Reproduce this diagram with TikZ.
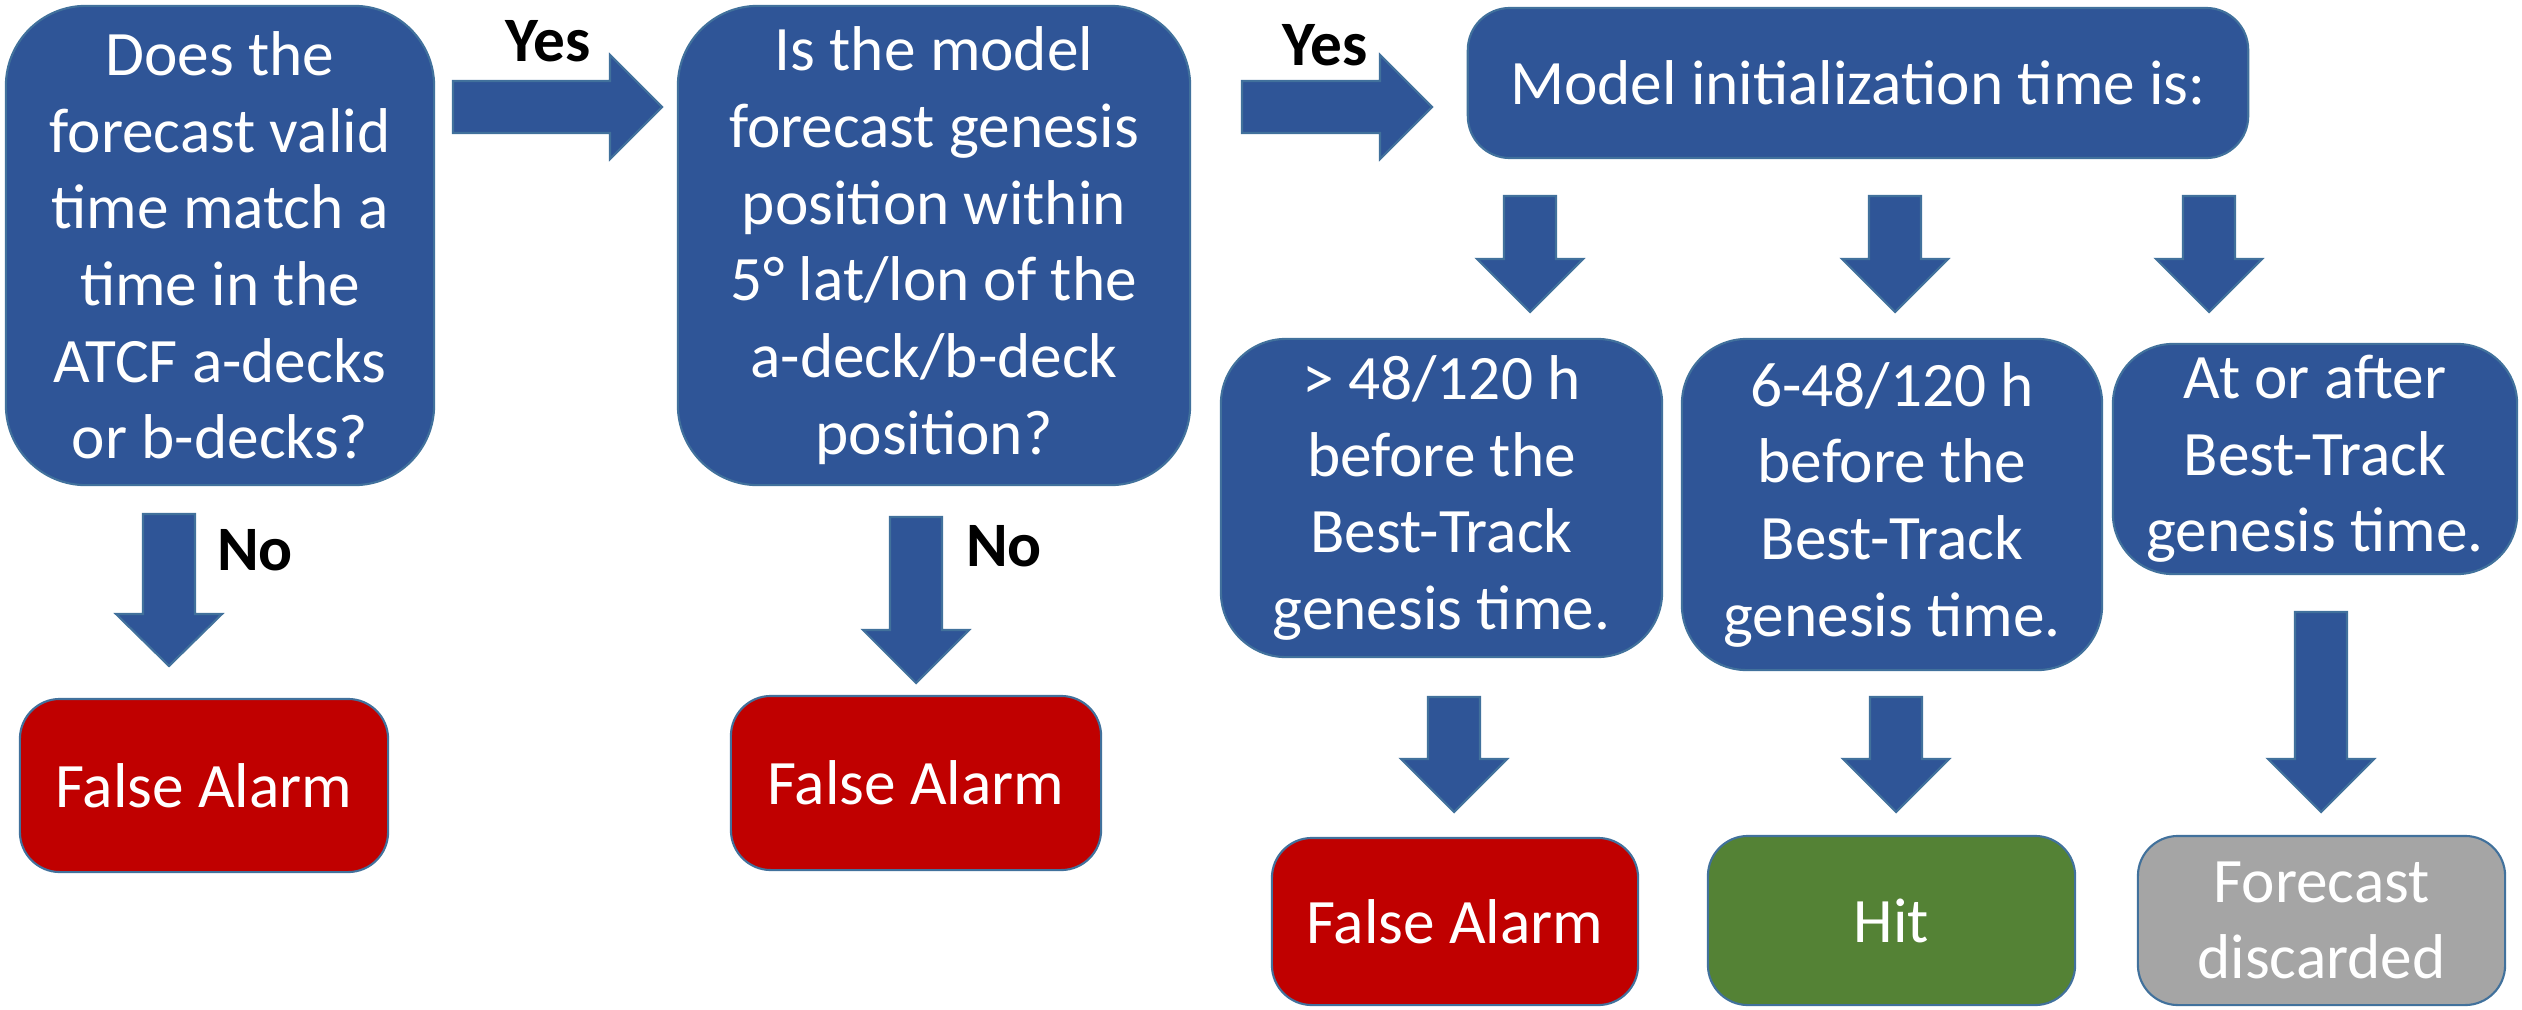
\documentclass[tikz,border=0pt]{standalone}
\usepackage{fontspec}
\setmainfont{Carlito}
\definecolor{boxblue}{HTML}{2F5597}
\definecolor{edgeblue}{HTML}{41719C}
\definecolor{alarmred}{HTML}{C00000}
\definecolor{hitgreen}{HTML}{548235}
\definecolor{discgray}{HTML}{A5A5A5}
\tikzset{
  box/.style={draw=edgeblue, line width=0.6pt, fill=boxblue, text=white, align=center,
    font=\fontsize{18}{21.8}\selectfont, inner sep=0pt},
  redbox/.style={box, fill=alarmred},
  greenbox/.style={box, fill=hitgreen},
  graybox/.style={box, fill=discgray},
  blockarr/.style={draw=edgeblue, line width=0.6pt, fill=boxblue},
  lab/.style={font=\fontsize{18}{21.8}\selectfont\bfseries, text=black, inner sep=0pt}
}
\newcommand\darr[4]{%
  \draw[blockarr] (#1-26,#2) -- (#1+26,#2) -- (#1+26,#3) -- (#1+53,#3) -- (#1,#4)
    -- (#1-53,#3) -- (#1-26,#3) -- cycle;}
\newcommand\rarr[3]{%
  \draw[blockarr] (#1,81) -- (#2,81) -- (#2,55) -- (#3,107) -- (#2,159) -- (#2,133)
    -- (#1,133) -- cycle;}
\begin{document}
\begin{tikzpicture}[x=0.01cm,y=-0.01cm]
\useasboundingbox (0,0) rectangle (2522,1009);

% question boxes
\node[box, minimum width=4.28cm, minimum height=4.79cm, rounded corners=0.8cm] (q1) at (220,245.5)
  {Does the\\forecast valid\\time match a\\time in the\\ATCF a-decks\\or b-decks?};
\node[box, minimum width=5.12cm, minimum height=4.79cm, rounded corners=0.8cm] (q2) at (934,245.5)
  {Is the model\\forecast genesis\\position within\\5° lat/lon of the\\a-deck/b-deck\\position?};
\node[box, minimum width=7.80cm, minimum height=1.50cm, rounded corners=0.42cm] (q3) at (1858,83)
  {Model initialization time is:};

\node[box, minimum width=4.41cm, minimum height=3.18cm, rounded corners=0.65cm] (c1) at (1441.5,498)
  {> 48/120 h\\before the\\Best-Track\\genesis time.};
\node[box, minimum width=4.20cm, minimum height=3.31cm, rounded corners=0.65cm] (c2) at (1892,504.5)
  {6-48/120 h\\before the\\Best-Track\\genesis time.};
\node[box, minimum width=4.04cm, minimum height=2.30cm, rounded corners=0.6cm] (c3) at (2315,459)
  {At or after\\Best-Track\\genesis time.};

% outcome boxes
\node[redbox, minimum width=3.68cm, minimum height=1.73cm, rounded corners=0.4cm] (fa1) at (204,785.5)
  {False Alarm};
\node[redbox, minimum width=3.70cm, minimum height=1.74cm, rounded corners=0.4cm] (fa2) at (916,783)
  {False Alarm};
\node[redbox, minimum width=3.66cm, minimum height=1.67cm, rounded corners=0.4cm] (fa3) at (1455,921.5)
  {False Alarm};
\node[greenbox, minimum width=3.67cm, minimum height=1.69cm, rounded corners=0.4cm] (hit) at (1891.5,920.5)
  {Hit};
\node[graybox, minimum width=3.67cm, minimum height=1.69cm, rounded corners=0.4cm] (disc) at (2321.5,920.5)
  {Forecast\\discarded};

% block arrows
\rarr{453}{610}{662}
\rarr{1242}{1380}{1432}
\darr{169}{514}{614}{666}
\darr{916}{517}{630}{683}
\darr{1530}{196}{259}{312}
\darr{1895}{196}{259}{312}
\darr{2209}{196}{259}{312}
\darr{1454}{697}{759}{812}
\darr{1896}{697}{759}{812}
\darr{2321}{612}{759}{812}

% labels
\node[lab] (yes1) at (548,41) {Yes};
\node[lab] (yes2) at (1325,45) {Yes};
\node[lab] (no1) at (255,550) {No};
\node[lab] (no2) at (1004,546) {No};
\end{tikzpicture}
\end{document}
